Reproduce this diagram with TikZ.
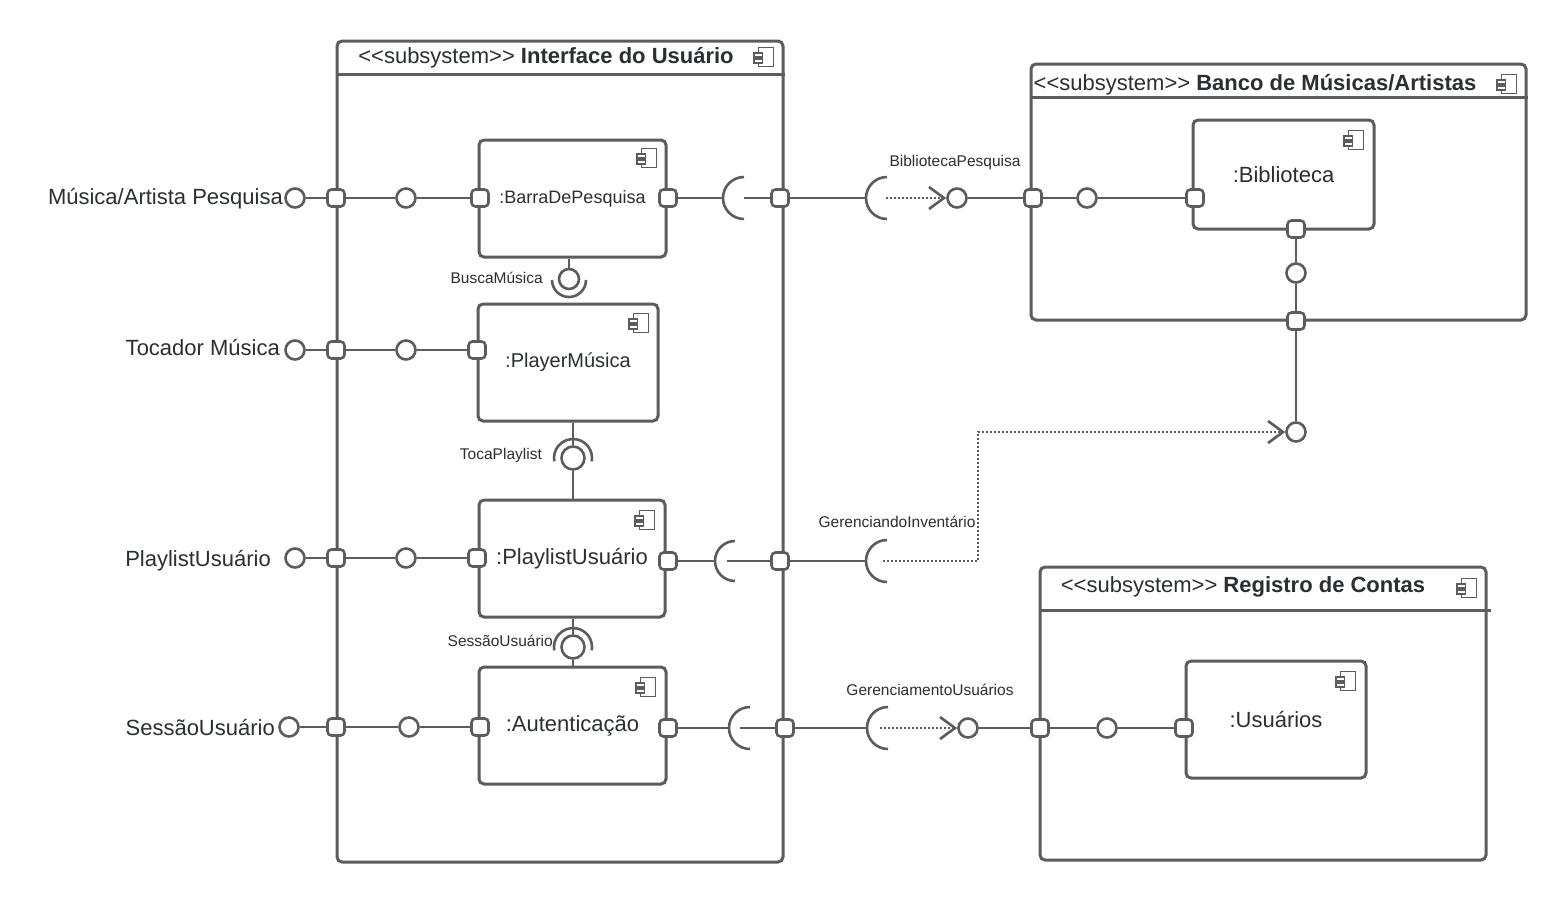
\documentclass[tikz,border=0pt]{standalone}
\usepackage{fontspec}
\setmainfont{Liberation Sans}
\usepackage{xcolor}
\usepackage{tikz}
\usetikzlibrary{
  arrows.meta,
  positioning
}
\definecolor{linegray}{HTML}{5C5C5C}
\definecolor{txtdark}{HTML}{2B2E35}

% small component symbol, #1 = centre of its body
\newcommand{\compicon}[1]{%
  \draw[icon] (#1) ++(-7.5pt,9.5pt) rectangle ++(15pt,-19pt);
  \draw[icon, fill=white] (#1) ++(-12pt,4pt) rectangle ++(8.5pt,-4pt);
  \draw[icon, fill=white] (#1) ++(-12pt,-2pt) rectangle ++(8.5pt,-4pt);}
% stereotype text, kerns keep << and >> from turning into guillemets
\newcommand{\stereo}{<\kern0pt<subsystem>\kern0pt>}

\begin{document}
\begin{tikzpicture}[x=1pt, y=-1pt,
  frame/.style={draw=linegray, line width=3pt, rounded corners=5pt,
                fill=white, inner sep=0pt},
  comp/.style={frame, text=txtdark, font=\fontsize{22}{26}\selectfont,
               minimum height=117pt},
  port/.style={draw=linegray, line width=2.6pt, fill=white,
               rounded corners=4pt, minimum size=17pt, inner sep=0pt},
  iface/.style={circle, draw=linegray, line width=2.6pt, fill=white,
                minimum size=19pt, inner sep=0pt},
  wire/.style={linegray, line width=2.4pt},
  cup/.style={linegray, line width=2.6pt},
  dep/.style={linegray, line width=1.6pt, dash pattern=on 1.6pt off 2.4pt,
              -{Straight Barb[length=15pt, width=22pt, line width=2.6pt]}},
  icon/.style={draw=linegray, line width=1.1pt},
  lbl/.style={text=txtdark, font=\fontsize{15.5}{18}\selectfont, inner sep=0pt},
  big/.style={text=txtdark, font=\fontsize{22}{26}\selectfont, inner sep=0pt},
]
  \path[use as bounding box, fill=white] (0,0) rectangle (1566,903);

  % Subsystems
  \node[frame, minimum width=446pt, minimum height=821pt] (sysUI) at (560,451.5) {};
  \draw[linegray, line width=3pt] ([yshift=-35pt]sysUI.north west) -- ([yshift=-35pt]sysUI.north east);
  \node[big] (ttlUI) at (546,57.5) {\stereo\ \textbf{Interface do Usuário}};
  \compicon{766,57}

  \node[frame, minimum width=495pt, minimum height=256pt] (sysBanco) at (1278.5,192) {};
  \draw[linegray, line width=3pt] ([yshift=-35pt]sysBanco.north west) -- ([yshift=-35pt]sysBanco.north east);
  \node[big] (ttlBanco) at (1255,84.5) {\stereo\ \textbf{Banco de Músicas/Artistas}};
  \compicon{1509,84}

  \node[frame, minimum width=446pt, minimum height=293pt] (sysConta) at (1263,713.5) {};
  \draw[linegray, line width=3pt] ([yshift=-45pt]sysConta.north west) -- ([xshift=3pt,yshift=-45pt]sysConta.north east);
  \node[big] (ttlConta) at (1243,586.5) {\stereo\ \textbf{Registro de Contas}};
  \compicon{1469,588}

  % Components
  \node[comp, minimum width=187pt] (barra) at (572.5,198.5) {\fontsize{18}{22}\selectfont :BarraDePesquisa};
  \node[comp, minimum width=180pt] (player) at (568,362.5) {\fontsize{20}{24}\selectfont :PlayerMúsica};
  \node[comp, minimum width=186pt] (playlist) at (572,558.5) {:PlaylistUsuário};
  \node[comp, minimum width=187pt] (autent) at (572.5,725.5) {:Autenticação};
  \node[comp, minimum width=181pt, minimum height=109pt] (biblio) at (1283.5,174.5) {:Biblioteca};
  \node[comp, minimum width=180pt] (usuarios) at (1276,719.5) {:Usuários};
  \compicon{649,158}
  \compicon{641,323}
  \compicon{647,520}
  \compicon{648,687}
  \compicon{1356,140}
  \compicon{1348,681}

  % Row 1: pesquisa
  \node[iface] (e1) at (295,198) {};
  \node[port]  (p1) at (336,198) {};
  \node[iface] (i1) at (406,198) {};
  \node[port]  (q1) at (480,198) {};
  \node[port]  (r1) at (668,198) {};
  \coordinate  (sA1) at (744,198);
  \node[port]  (o1) at (780,198) {};
  \coordinate  (sB1) at (887,198);
  \node[iface] (b1c) at (957,198) {};
  \node[port]  (pb1) at (1033,198) {};
  \node[iface] (ib1) at (1087,198) {};
  \node[port]  (qb1) at (1195,198) {};
  \node[port]  (qb2) at (1296,229) {};
  \node[iface] (ib2) at (1296,273) {};
  \node[port]  (pb2) at (1296,321) {};
  \node[iface] (ib3) at (1296,432) {};
  \coordinate  (bendG) at (978,432);

  % Row 2: player
  \node[iface] (e2) at (295,350) {};
  \node[port]  (p2) at (336,350) {};
  \node[iface] (i2) at (406,350) {};
  \node[port]  (q2) at (477,350) {};

  % Row 3: playlist
  \node[iface] (e3) at (295,558) {};
  \node[port]  (p3) at (336,558) {};
  \node[iface] (i3) at (406,558) {};
  \node[port]  (q3) at (477,558) {};
  \node[port]  (r3) at (668,561) {};
  \coordinate  (sA3) at (735,561);
  \node[port]  (o3) at (780,561) {};
  \coordinate  (sB3) at (887,561);

  % Row 4: sessao
  \node[iface] (e4) at (289,727) {};
  \node[port]  (p4) at (336,727) {};
  \node[iface] (i4) at (409,727) {};
  \node[port]  (q4) at (480,727) {};
  \node[port]  (r4) at (668,728) {};
  \coordinate  (sA4) at (750,728);
  \node[port]  (o4) at (785,728) {};
  \coordinate  (sB4) at (888,728);
  \node[iface] (ic4) at (968,728) {};
  \node[port]  (pc1) at (1040,728) {};
  \node[iface] (ic5) at (1107,728) {};
  \node[port]  (qc1) at (1184,728) {};

  % Interfaces between components
  \node[iface, minimum size=20pt] (cB) at (569,279) {};
  \node[iface, minimum size=23pt] (cT) at (573,458) {};
  \node[iface, minimum size=23pt] (cS) at (573,647) {};

  % Wires
  \draw[wire] (e1) -- (p1) -- (i1) -- (q1);
  \draw[wire] (r1) -- ([xshift=-21pt]sA1);
  \draw[wire] (sA1) -- (o1) -- ([xshift=-21pt]sB1);
  \draw[cup] (sA1) ++(0pt,21pt) arc[start angle=90, end angle=270, radius=21pt];
  \draw[cup] (sB1) ++(0pt,21pt) arc[start angle=90, end angle=270, radius=21pt];
  \draw[dep] ([xshift=-1pt]sB1) -- (b1c);
  \draw[wire] (b1c) -- (pb1) -- (ib1) -- (qb1);
  \draw[wire] (qb2) -- (ib2) -- (pb2) -- (ib3);

  \draw[wire] (e2) -- (p2) -- (i2) -- (q2);

  \draw[wire] (e3) -- (p3) -- (i3) -- (q3);
  \draw[wire] (r3) -- ([xshift=-20pt]sA3);
  \draw[wire] ([xshift=-8pt]sA3) -- (o3) -- ([xshift=-21pt]sB3);
  \draw[cup] (sA3) ++(0pt,20pt) arc[start angle=90, end angle=270, radius=20pt];
  \draw[cup] (sB3) ++(0pt,21pt) arc[start angle=90, end angle=270, radius=21pt];
  \draw[dep] ([xshift=-4pt]sB3) -| (bendG) -- (ib3);

  \draw[wire] (e4) -- (p4) -- (i4) -- (q4);
  \draw[wire] (r4) -- ([xshift=-21pt]sA4);
  \draw[wire] ([xshift=-10pt]sA4) -- (o4) -- ([xshift=-21pt]sB4);
  \draw[cup] (sA4) ++(0pt,21pt) arc[start angle=90, end angle=270, radius=21pt];
  \draw[cup] (sB4) ++(0pt,21pt) arc[start angle=90, end angle=270, radius=21pt];
  \draw[dep] ([xshift=-8pt]sB4) -- (ic4);
  \draw[wire] (ic4) -- (pc1) -- (ic5) -- (qc1);

  \draw[wire] (barra.south -| cB) -- (cB);
  \draw[cup] (cB) ++(-17pt,-1pt) arc[start angle=180, end angle=360, radius=17pt];
  \draw[wire] (player.south -| cT) -- (cT);
  \draw[wire] (cT) -- (playlist.north -| cT);
  \draw[cup] (cT) ++(18.7pt,-3.3pt) arc[start angle=-10, end angle=190, radius=19pt];
  \draw[wire] (playlist.south -| cS) -- ([yshift=19pt]cS);
  \draw[wire] (cS) -- (autent.north -| cS);
  \draw[cup] (cS) ++(18.7pt,-3.3pt) arc[start angle=-10, end angle=190, radius=19pt];

  % Labels
  \node[big, anchor=base east] (lbMus) at (283,204) {Música/Artista Pesquisa};
  \node[big, anchor=base east] (lbToc) at (280,355) {Tocador Música};
  \node[big, anchor=base east] (lbPly) at (271,566) {PlaylistUsuário};
  \node[big, anchor=base east] (lbSes) at (275,735) {SessãoUsuário};
  \node[lbl, anchor=east] (lbBusca) at (543,278) {BuscaMúsica};
  \node[lbl, anchor=east] (lbToca) at (542,455) {TocaPlaylist};
  \node[lbl, anchor=east] (lbSessao) at (553,641) {SessãoUsuário};
  \node[lbl] (lbBib) at (955,162) {BibliotecaPesquisa};
  \node[lbl] (lbInv) at (897,522) {GerenciandoInventário};
  \node[lbl] (lbUsr) at (930,690) {GerenciamentoUsuários};
\end{tikzpicture}
\end{document}
